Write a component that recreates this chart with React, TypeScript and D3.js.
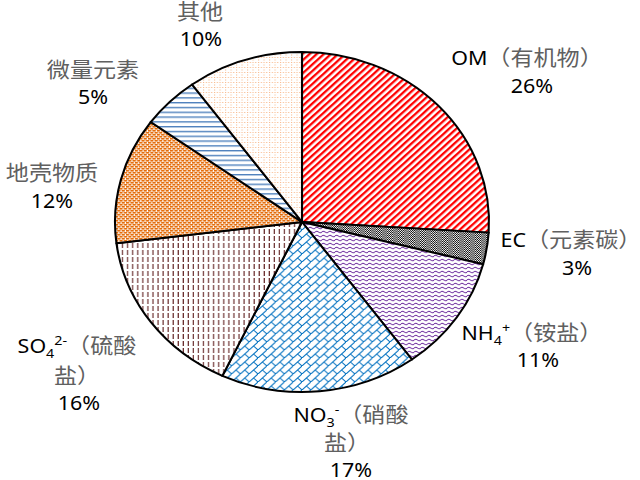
import React from 'react';
import * as d3 from 'd3';

// ---- data ----
const categories = ['OM', 'EC', 'NH4', 'NO3', 'SO4', 'Earth', 'Micro', 'Other'];
const values = [26, 3, 11, 17, 16, 12, 5, 10];
const percentLabels = ['26%', '3%', '11%', '17%', '16%', '12%', '5%', '10%'];

// label pieces: [text, kind] kind: n=normal latin, c=cjk, sub, sup
type Piece = [string, string];
const labelLines: Piece[][][] = [
  [[['OM', 'n'], ['（有机物）', 'c']], [[percentLabels[0], 'n']]],
  [[['EC', 'n'], ['（元素碳）', 'c']], [[percentLabels[1], 'n']]],
  [[['NH', 'n'], ['4', 'sub'], ['+', 'sup'], ['（铵盐）', 'c']], [[percentLabels[2], 'n']]],
  [[['NO', 'n'], ['3', 'sub'], ['-', 'sup'], ['（硝酸', 'c']], [['盐）', 'c']], [[percentLabels[3], 'n']]],
  [[['SO', 'n'], ['4', 'sub'], ['2-', 'sup'], ['（硫酸', 'c']], [['盐）', 'c']], [[percentLabels[4], 'n']]],
  [[['地壳物质', 'c']], [[percentLabels[5], 'n']]],
  [[['微量元素', 'c']], [[percentLabels[6], 'n']]],
  [[['其他', 'c']], [[percentLabels[7], 'n']]],
];

// ---- layout (screen coords) ----
const SX = 1.1; // horizontal stretch of the original picture
const CX = 302, CY = 222, R = 170;
const labelPos: { x: number[]; y: number[] }[] = [
  { x: [527, 532], y: [65, 93] },
  { x: [571, 577], y: [247, 275] },
  { x: [532, 538], y: [340, 367] },
  { x: [351, 347, 351], y: [422, 450, 477] },
  { x: [77, 77, 79], y: [353, 383, 410] },
  { x: [52, 52], y: [180, 208] },
  { x: [93, 93], y: [77, 104] },
  { x: [200, 201], y: [19, 46] },
];

const patternIds = ['p-om', 'p-ec', 'p-nh4', 'p-no3', 'p-so4', 'p-earth', 'p-micro', 'p-other'];

const LATIN = "'Noto Sans', 'DejaVu Sans', sans-serif";
const CJK = "'Noto Sans CJK SC', sans-serif";

function renderPieces(pieces: Piece[]) {
  const out: React.ReactNode[] = [];
  let shift = 0;
  pieces.forEach((p, i) => {
    const [t, k] = p;
    let target = 0;
    if (k === 'sub') target = 5;
    else if (k === 'sup') target = -8;
    const dy = target - shift;
    shift = target;
    if (k === 'c') {
      out.push(
        <tspan key={i} dy={dy} fontFamily={CJK} fontSize={21} fill="#606060">{t}</tspan>
      );
    } else if (k === 'sub' || k === 'sup') {
      out.push(
        <tspan key={i} dy={dy} fontFamily={LATIN} fontSize={13} fill="#000">{t}</tspan>
      );
    } else {
      out.push(
        <tspan key={i} dy={dy} fontFamily={LATIN} fontSize={19.5} fill="#000">{t}</tspan>
      );
    }
  });
  return out;
}

export default function App() {
  const pie = d3.pie<number>().sort(null).value((d) => d);
  const arcs = pie(values);
  const arc = d3.arc<d3.PieArcDatum<number>>().innerRadius(0).outerRadius(R);

  return (
    <svg
      width={640}
      height={480}
      style={{ position: 'absolute', left: 0, top: 0, background: '#fff' }}
    >
      <defs>
        <pattern id="p-om" width={4.6} height={4.6} patternUnits="userSpaceOnUse" patternTransform="rotate(-45)">
          <rect width={4.6} height={4.6} fill="#fff" />
          <rect width={4.6} height={2.2} fill="#ff0000" />
        </pattern>
        <pattern id="p-ec" width={2} height={2} patternUnits="userSpaceOnUse">
          <rect width={2} height={2} fill="#fff" />
          <rect x={0} y={0} width={1} height={1} fill="#000" />
          <rect x={1} y={1} width={1} height={1} fill="#000" />
        </pattern>
        <pattern id="p-nh4" width={6} height={4} patternUnits="userSpaceOnUse">
          <rect width={6} height={4} fill="#fff" />
          <path d="M0,2 Q1.5,0.5 3,2 T6,2" stroke="#7030a0" strokeWidth={1} fill="none" />
        </pattern>
        <pattern id="p-no3" width={8} height={8} patternUnits="userSpaceOnUse">
          <rect width={8} height={8} fill="#fff" />
          <path d="M-1,9 L9,-1 M4,4 L8,8 M-4,4 L0,8" stroke="#0070c0" strokeWidth={1} fill="none" />
        </pattern>
        <pattern id="p-so4" width={4.6} height={7} patternUnits="userSpaceOnUse">
          <rect width={4.6} height={7} fill="#fff" />
          <rect x={2} y={0} width={1} height={5} fill="#5c1a1a" />
        </pattern>
        <pattern id="p-earth" width={4} height={4} patternUnits="userSpaceOnUse">
          <rect width={4} height={4} fill="#fff" />
          <rect x={0} y={0} width={3} height={1.6} fill="#e46c0a" />
          <rect x={2} y={2} width={3} height={1.6} fill="#e46c0a" />
          <rect x={-2} y={2} width={3} height={1.6} fill="#e46c0a" />
        </pattern>
        <pattern id="p-micro" width={4} height={4.8} patternUnits="userSpaceOnUse">
          <rect width={4} height={4.8} fill="#fff" />
          <rect y={0} width={4} height={1.4} fill="#4f81bd" />
        </pattern>
        <pattern id="p-other" width={5} height={5} patternUnits="userSpaceOnUse">
          <rect width={5} height={5} fill="#fff" />
          <rect x={0} y={0} width={1} height={1} fill="#f9b98c" />
          <rect x={2.5} y={0} width={1} height={1} fill="#f9b98c" />
          <rect x={0} y={2.5} width={1} height={1} fill="#f9b98c" />
        </pattern>
      </defs>
      <g transform={`scale(${SX},1)`}>
        <g transform={`translate(${CX / SX},${CY})`}>
          {arcs.map((a, i) => (
            <path
              key={categories[i]}
              d={arc(a) || ''}
              fill={`url(#${patternIds[i]})`}
              stroke="#000"
              strokeWidth={1.9}
              strokeLinejoin="round"
            />
          ))}
        </g>
        {labelLines.map((lines, i) => (
          <g key={'l' + i}>
            {lines.map((pieces, j) => (
              <text
                key={j}
                x={labelPos[i].x[j] / SX}
                y={labelPos[i].y[j]}
                textAnchor="middle"
              >
                {renderPieces(pieces)}
              </text>
            ))}
          </g>
        ))}
      </g>
    </svg>
  );
}
